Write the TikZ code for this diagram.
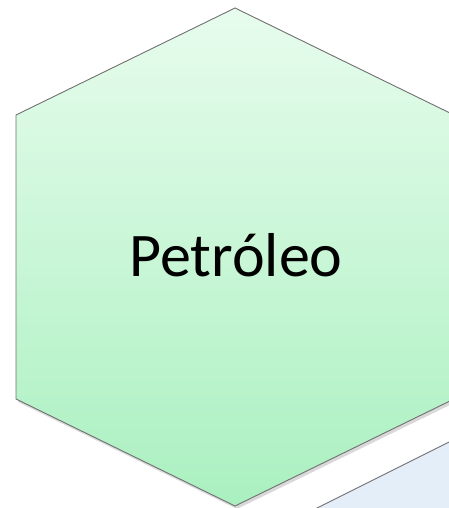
\documentclass[tikz,border=0pt]{standalone}
\usepackage{fontspec}
\setmainfont{Carlito}
\usetikzlibrary{shadows}

\definecolor{mintTop}{RGB}{231,252,237}
\definecolor{mintBot}{RGB}{170,240,192}
\definecolor{paleBlue}{RGB}{228,238,249}
\definecolor{hexEdge}{RGB}{112,112,112}

\tikzset{
	hexcell/.style={draw=hexEdge, line width=0.9pt, line join=miter},
}

\begin{document}
\begin{tikzpicture}[x=1pt, y=-1pt]
		\useasboundingbox (0, 0) rectangle (449, 508);
		\clip (0, 0) rectangle (449, 508);

		% neighbour cell, only its upper left edge shows
		\draw [hexcell, fill=paleBlue, drop shadow={shadow xshift=1pt, shadow yshift=-2pt, opacity=0.25}]
			(301, 516) -- (481, 426) -- (520, 426) -- (520, 540) -- (301, 540) -- cycle;

		% main cell
		\draw [hexcell, top color=mintTop, bottom color=mintBot, drop shadow={shadow xshift=2pt, shadow yshift=-3pt, opacity=0.3}]
			(235, 8) -- (454, 115) -- (454, 399) -- (235, 506) -- (16, 399) -- (16, 115) -- cycle;

		\node (petroleo) [anchor=base, inner sep=0pt] at (236, 276) {\fontsize{62}{70}\selectfont Petróleo};
	\end{tikzpicture}
\end{document}
